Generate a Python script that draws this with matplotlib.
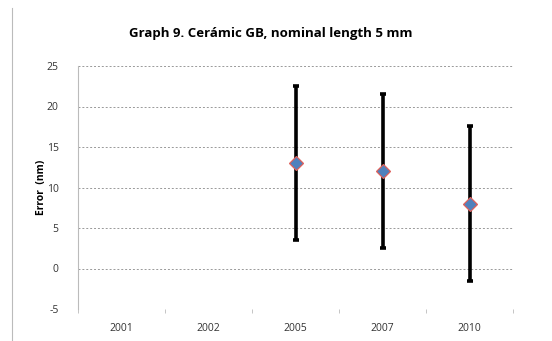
import numpy as np
import matplotlib.pyplot as plt

plt.rcParams['font.family'] = ['Open Sans', 'DejaVu Sans']
plt.rcParams['axes.unicode_minus'] = False

years = ['2001', '2002', '2005', '2007', '2010']
error = [np.nan, np.nan, 13, 12, 8]
uncert = [np.nan, np.nan, 9.5, 9.5, 9.6]

fig = plt.figure(figsize=(5.52, 3.41), dpi=100)
ax = fig.add_axes([78/552, 1 - 309/341, (513-78)/552, (309-66)/341])

x = np.arange(len(years))
ax.errorbar(x, error, yerr=uncert, fmt='none', ecolor='black', elinewidth=2.6,
            capsize=2.5, capthick=2.6)
ax.plot(x, error, linestyle='none', marker='D', markersize=7,
        markerfacecolor='#4F81BD', markeredgecolor='#E0605A', markeredgewidth=0.9)

ax.set_xlim(-0.5, len(years) - 0.5)
ax.set_ylim(-5, 25)
ax.set_yticks(range(-5, 26, 5))
ax.set_xticks(x)
ax.set_xticklabels(years)
ax.set_xticks(np.arange(-0.5, len(years)), minor=True)
ax.tick_params(axis='x', which='major', length=0, pad=10, labelsize=7.5, labelcolor='#333333')
ax.tick_params(axis='x', which='minor', length=3, color='#bbbbbb', direction='out')
ax.tick_params(axis='y', length=0, pad=14, labelsize=7.5, labelcolor='#333333')

for v in range(0, 26, 5):
    ax.axhline(v, color='#999999', linestyle=(0, (2, 2)), linewidth=0.7, zorder=0)

for s in ['top', 'right', 'bottom']:
    ax.spines[s].set_visible(False)
ax.spines['left'].set_color('#bbbbbb')
ax.spines['left'].set_linewidth(0.8)

ax.set_ylabel('Error  (nm)', fontsize=7.5, fontweight='bold', labelpad=0)
fig.text(271/552, 1 - 33/341, 'Graph 9. Cerámic GB, nominal length 5 mm',
         ha='center', va='center', fontsize=9.5, fontweight='bold')

# outer chart frame line on the left
fig.add_artist(plt.Line2D([12/552, 12/552], [0, 1 - 8/341], color='#bbbbbb', linewidth=0.8))

fig.savefig('out.png', dpi=100)
